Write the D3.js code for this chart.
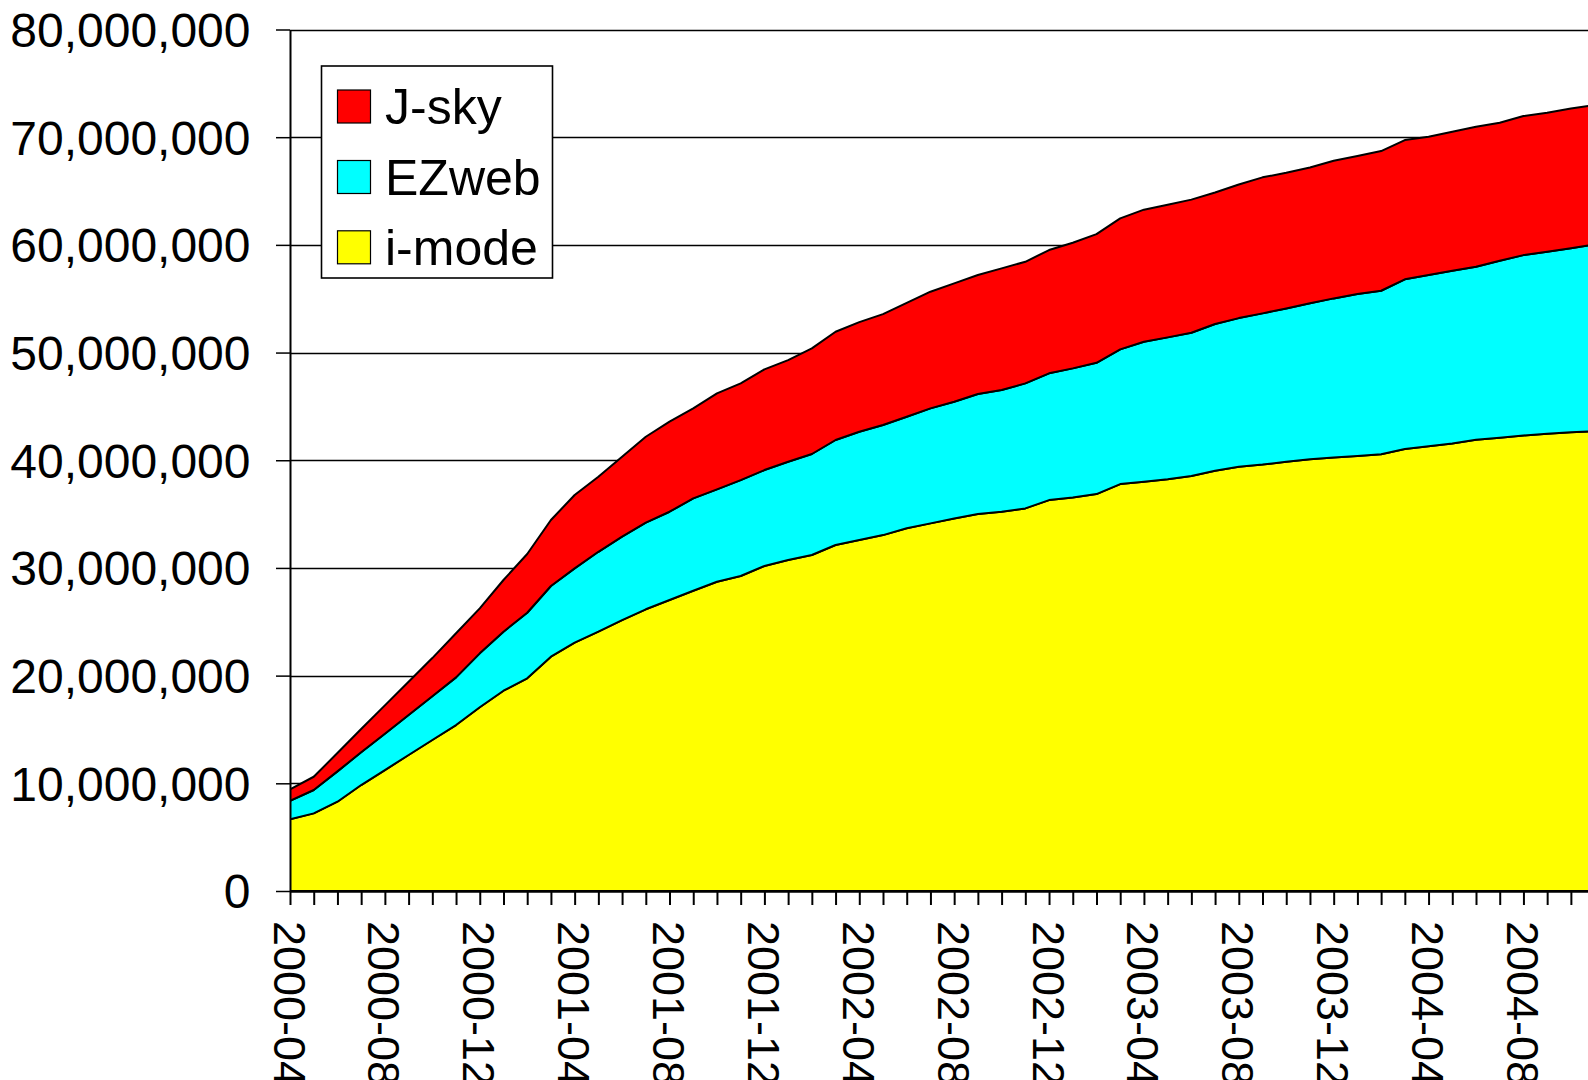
<!DOCTYPE html>
<html>
<head>
<meta charset="utf-8">
<script src="https://cdn.jsdelivr.net/npm/d3@7"></script>
<style>
  html, body { margin: 0; padding: 0; background: #fff; overflow: hidden; }
  svg { display: block; font-family: "Liberation Sans", Arial, sans-serif; }
</style>
</head>
<body>
<svg id="chart" width="1588" height="1080"></svg>
<script>
// ---------------- DATA ----------------
const months = [
  "2000-04","2000-05","2000-06","2000-07","2000-08","2000-09","2000-10","2000-11","2000-12",
  "2001-01","2001-02","2001-03","2001-04","2001-05","2001-06","2001-07","2001-08","2001-09",
  "2001-10","2001-11","2001-12","2002-01","2002-02","2002-03","2002-04","2002-05","2002-06",
  "2002-07","2002-08","2002-09","2002-10","2002-11","2002-12","2003-01","2003-02","2003-03",
  "2003-04","2003-05","2003-06","2003-07","2003-08","2003-09","2003-10","2003-11","2003-12",
  "2004-01","2004-02","2004-03","2004-04","2004-05","2004-06","2004-07","2004-08","2004-09",
  "2004-10","2004-11"
];

const imode = [
  6660000, 7210000, 8290000, 9840000, 11230000, 12630000, 14020000, 15410000, 17060000,
  18600000, 19750000, 21760000, 23060000, 24080000, 25160000, 26160000, 27020000, 27880000,
  28720000, 29250000, 30180000, 30730000, 31200000, 32130000, 32590000, 33050000, 33680000,
  34140000, 34600000, 35000000, 35220000, 35530000, 36300000, 36550000, 36860000, 37790000,
  38000000, 38230000, 38530000, 39030000, 39400000, 39600000, 39850000, 40100000, 40250000,
  40400000, 40550000, 41050000, 41300000, 41550000, 41900000, 42100000, 42300000, 42450000,
  42600000, 42700000
];

const ezweb = [
  1720000, 2170000, 2820000, 3040000, 3380000, 3710000, 4060000, 4430000, 5010000,
  5480000, 6090000, 6560000, 6900000, 7420000, 7740000, 8040000, 8200000, 8580000,
  8580000, 8910000, 8910000, 9130000, 9380000, 9750000, 10060000, 10220000, 10360000,
  10680000, 10830000, 11150000, 11300000, 11610000, 11770000, 11980000, 12190000, 12510000,
  13000000, 13180000, 13310000, 13620000, 13800000, 14040000, 14250000, 14470000, 14780000,
  15030000, 15190000, 15750000, 15900000, 16050000, 16070000, 16420000, 16750000, 16910000,
  17080000, 17340000
];

const jsky = [
  1060000, 1230000, 1700000, 2160000, 2630000, 3090000, 3550000, 4090000, 4180000,
  4800000, 5450000, 6130000, 6810000, 6970000, 7430000, 7980000, 8360000, 8360000,
  8910000, 8980000, 9350000, 9440000, 9810000, 10050000, 10180000, 10300000, 10580000,
  10830000, 10990000, 11050000, 11300000, 11290000, 11450000, 11670000, 11950000, 12160000,
  12270000, 12320000, 12360000, 12210000, 12400000, 12630000, 12600000, 12620000, 12780000,
  12820000, 12970000, 12930000, 12840000, 12900000, 13000000, 12820000, 12910000, 12910000,
  12990000, 12940000
];

const seriesNames = ["i-mode", "EZweb", "J-sky"];
const seriesColors = ["#FFFF00", "#00FFFF", "#FF0000"];
const legendOrder = ["J-sky", "EZweb", "i-mode"];
const yTicks = [0, 10000000, 20000000, 30000000, 40000000, 50000000, 60000000, 70000000, 80000000];
const labelEvery = 4;

// ---------------- LAYOUT ----------------
const W = 1588, H = 1080;
const plotLeft = 290, plotTop = 29.5, plotBottom = 891;
const monthStep = 23.72;
const yFont = 48, xFont = 45, legendFont = 50;

const svg = d3.select("#chart");

const table = months.map((m, i) => ({
  month: m, idx: i,
  "i-mode": imode[i], "EZweb": ezweb[i], "J-sky": jsky[i]
}));

const x = d3.scaleLinear()
  .domain([0, months.length - 1])
  .range([plotLeft, plotLeft + (months.length - 1) * monthStep]);

const y = d3.scaleLinear()
  .domain([0, 80000000])
  .range([plotBottom, plotTop]);

const color = d3.scaleOrdinal().domain(seriesNames).range(seriesColors);

svg.append("defs").append("clipPath").attr("id", "plotclip")
  .append("rect").attr("x", plotLeft).attr("y", 0).attr("width", W - plotLeft).attr("height", plotBottom);

// gridlines
svg.append("g").selectAll("line").data(yTicks.filter(d => d > 0)).join("line")
  .attr("x1", plotLeft).attr("x2", W)
  .attr("y1", d => Math.round(y(d)) + 0.5).attr("y2", d => Math.round(y(d)) + 0.5)
  .attr("stroke", "#000").attr("stroke-width", 1.3);

// stacked areas
const stack = d3.stack().keys(seriesNames);
const layers = stack(table);

const area = d3.area()
  .x(d => x(d.data.idx))
  .y0(d => y(d[0]))
  .y1(d => y(d[1]));

svg.append("g").attr("clip-path", "url(#plotclip)")
  .selectAll("path").data(layers).join("path")
  .attr("d", area)
  .attr("fill", d => color(d.key))
  .attr("stroke", "#000")
  .attr("stroke-width", 2)
  .attr("stroke-linejoin", "round");

// y axis
const yAxis = d3.axisLeft(y)
  .tickValues(yTicks)
  .tickSize(14)
  .tickSizeOuter(0)
  .tickPadding(25.5)
  .tickFormat(d3.format(","));

const gy = svg.append("g").attr("transform", `translate(${plotLeft},0)`).call(yAxis);
gy.select(".domain").attr("stroke", "#000").attr("stroke-width", 2);
gy.selectAll(".tick line").attr("stroke", "#000").attr("stroke-width", 1.5);
gy.selectAll(".tick text")
  .attr("font-size", yFont)
  .attr("font-family", "'Liberation Sans', Arial, sans-serif")
  .attr("fill", "#000")
  .attr("dy", "0.35em");

// x axis
const xAxis = d3.axisBottom(x)
  .tickValues(d3.range(months.length))
  .tickSize(14)
  .tickSizeOuter(0)
  .tickFormat("");

const gx = svg.append("g").attr("transform", `translate(0,${plotBottom})`).call(xAxis);
gx.select(".domain").attr("stroke", "#000").attr("stroke-width", 2.5);
gx.selectAll(".tick line").attr("stroke", "#000").attr("stroke-width", 2);

// x labels (rotated, reading top to bottom)
svg.append("g").selectAll("text")
  .data(months.map((m, i) => ({ m, i })).filter(d => d.i % labelEvery === 0))
  .join("text")
  .attr("transform", d => `translate(${x(d.i) - 1},${plotBottom + 30}) rotate(90)`)
  .attr("text-anchor", "start")
  .attr("dominant-baseline", "central")
  .attr("font-size", xFont)
  .attr("fill", "#000")
  .text(d => d.m);

// legend
const lg = svg.append("g");
lg.append("rect")
  .attr("x", 321.5).attr("y", 66).attr("width", 231).attr("height", 212)
  .attr("fill", "#fff").attr("stroke", "#000").attr("stroke-width", 1.6);

const rowY = [106.5, 177, 247.3];
legendOrder.forEach((name, k) => {
  lg.append("rect")
    .attr("x", 337.5).attr("y", rowY[k] - 16.5)
    .attr("width", 33).attr("height", 33)
    .attr("fill", color(name)).attr("stroke", "#000").attr("stroke-width", 1.2);
  lg.append("text")
    .attr("x", 385).attr("y", rowY[k] + 17.5)
    .attr("font-size", legendFont)
    .attr("fill", "#000")
    .text(name);
});
</script>
</body>
</html>
